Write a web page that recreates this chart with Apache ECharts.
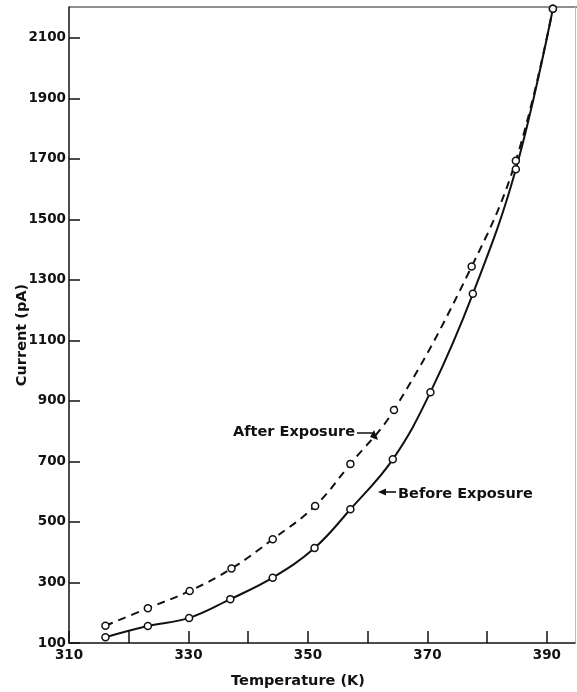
<!DOCTYPE html>
<html>
<head>
<meta charset="utf-8">
<script src="https://cdn.jsdelivr.net/npm/echarts@6/dist/echarts.min.js"></script>
<style>html,body{margin:0;padding:0;background:#fff}#c{width:577px;height:692px}</style>
</head>
<body>
<div id="c"></div>
<script>
var beforeT = [316.1, 323.2, 330.1, 337.0, 344.1, 351.1, 357.1, 364.2, 370.5, 377.6, 384.8, 391.0];
var beforeI = [119, 156, 183, 245, 316, 414, 542, 707, 929, 1254, 1666, 2196];
var afterT  = [316.1, 323.2, 330.2, 337.2, 344.1, 351.2, 357.1, 364.4, 377.4, 384.8, 391.0];
var afterI  = [157, 215, 272, 346, 443, 553, 692, 870, 1344, 1694, 2196];
var xTicks = [310, 330, 350, 370, 390];
var yTicks = [100, 300, 500, 700, 900, 1100, 1300, 1500, 1700, 1900, 2100];

function pairs(a, b) { return a.map(function (v, i) { return [v, b[i]]; }); }

var FONT = '"DejaVu Sans", sans-serif';
var chart = echarts.init(document.getElementById('c'), null, {renderer: 'canvas'});
var lab = {color: '#111', fontFamily: FONT, fontWeight: 'bold', fontSize: 13.5};

chart.setOption({
  animation: false,
  backgroundColor: '#fff',
  grid: {left: 69, right: 2, top: 7, bottom: 49, containLabel: false},
  xAxis: {
    type: 'value', min: 310, max: 394.7, interval: 10,
    axisLine: {show: true, lineStyle: {color: '#111', width: 1.5}},
    axisTick: {show: true, inside: true, length: 12, lineStyle: {color: '#111', width: 1.5}},
    splitLine: {show: false},
    axisLabel: Object.assign({margin: 5, showMaxLabel: false,
      formatter: function (v) { return xTicks.indexOf(v) >= 0 ? String(v) : ''; }}, lab)
  },
  yAxis: {
    type: 'value', min: 100, max: 2202, interval: 200,
    axisLine: {show: true, lineStyle: {color: '#111', width: 1.5}},
    axisTick: {show: true, inside: true, length: 11, lineStyle: {color: '#111', width: 1.5}},
    splitLine: {show: false},
    axisLabel: Object.assign({margin: 3, showMaxLabel: false,
      formatter: function (v) { return yTicks.indexOf(v) >= 0 ? String(v) : ''; }}, lab)
  },
  series: [
    {
      name: 'Before Exposure', type: 'line', smooth: 0.4,
      data: pairs(beforeT, beforeI),
      symbol: 'circle', symbolSize: 7, showAllSymbol: true,
      lineStyle: {color: '#111', width: 2},
      itemStyle: {color: '#fff', borderColor: '#111', borderWidth: 1.5},
      z: 3
    },
    {
      name: 'After Exposure', type: 'line', smooth: 0.4,
      data: pairs(afterT, afterI),
      symbol: 'circle', symbolSize: 7, showAllSymbol: true,
      lineStyle: {color: '#111', width: 2, type: [8, 6]},
      itemStyle: {color: '#fff', borderColor: '#111', borderWidth: 1.5},
      z: 3
    }
  ],
  graphic: [
    {type: 'line', shape: {x1: 69, y1: 7, x2: 577, y2: 7}, style: {stroke: '#222', lineWidth: 1.2}},
    {type: 'line', shape: {x1: 575.5, y1: 7, x2: 575.5, y2: 643}, style: {stroke: '#bbb', lineWidth: 1}},
    {type: 'text', x: 22, y: 335, rotation: Math.PI / 2,
      style: {text: 'Current (pA)', fill: '#111', font: 'bold 14.5px ' + FONT, align: 'center', verticalAlign: 'middle'}},
    {type: 'text', x: 298, y: 681,
      style: {text: 'Temperature (K)', fill: '#111', font: 'bold 14.5px ' + FONT, align: 'center', verticalAlign: 'middle'}},
    {type: 'text', x: 233, y: 432,
      style: {text: 'After Exposure', fill: '#111', font: 'bold 14.5px ' + FONT, align: 'left', verticalAlign: 'middle'}},
    {type: 'polyline', shape: {points: [[357, 433], [372, 433], [377, 438]]}, style: {stroke: '#111', lineWidth: 1.6, fill: null}},
    {type: 'polygon', shape: {points: [[378, 440], [370, 437], [374, 430]]}, style: {fill: '#111'}},
    {type: 'text', x: 398, y: 494,
      style: {text: 'Before Exposure', fill: '#111', font: 'bold 14.5px ' + FONT, align: 'left', verticalAlign: 'middle'}},
    {type: 'line', shape: {x1: 384, y1: 492, x2: 396, y2: 492}, style: {stroke: '#111', lineWidth: 1.6}},
    {type: 'polygon', shape: {points: [[378, 492], [386, 488.5], [386, 495.5]]}, style: {fill: '#111'}}
  ]
});
</script>
</body>
</html>
